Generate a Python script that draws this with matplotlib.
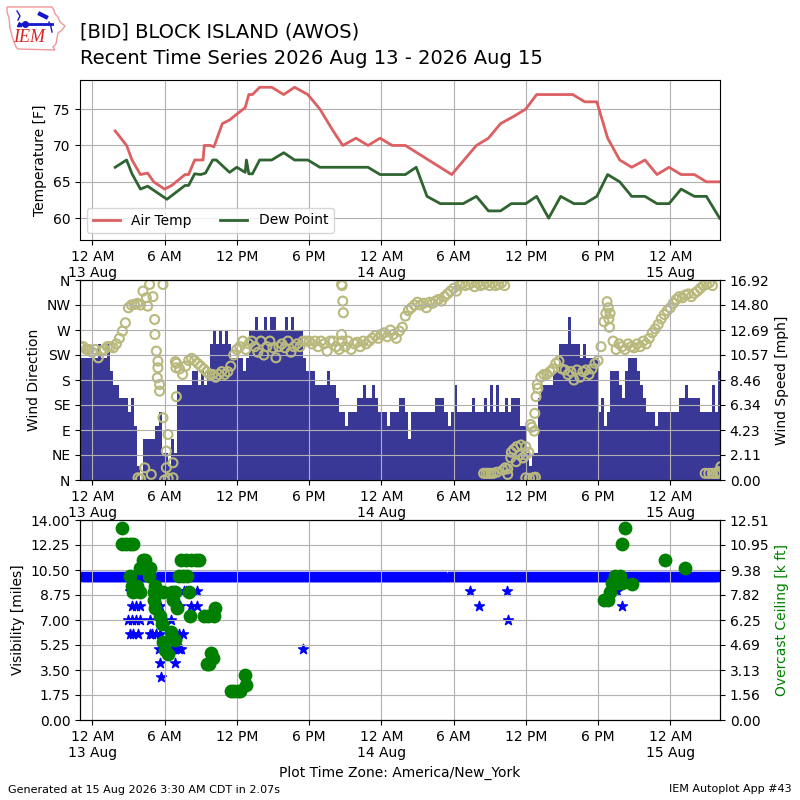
import datetime
import numpy as np
import matplotlib
matplotlib.use("Agg")
import matplotlib.pyplot as plt
from matplotlib.patches import Polygon

# all times are hours counted from 13 Aug 2026 00:00 (America/New_York)
base = datetime.datetime(2026, 8, 13)

# hourly / special observations
temp_hours = [1.9, 2.85, 3.3, 4.0, 4.6, 5.1, 6.0, 6.6, 7.7, 8.0, 8.5, 9.2, 9.3,
              9.8, 10.1, 10.8, 11.4, 12.0, 12.7, 13.0, 13.3, 13.9, 14.9, 15.9,
              16.8, 17.9, 18.9, 20.0, 20.8, 21.9, 22.9, 23.9, 24.9, 26.0, 29.85,
              31.9, 32.9, 33.9, 35.0, 36.0, 36.9, 39.9, 40.9, 41.9, 42.8, 43.8,
              44.8, 45.9, 46.9, 47.9, 48.9, 50.0, 51.0, 52.1]
temp_f = [72, 70, 68, 66, 66.2, 65, 64, 64.5, 66, 66, 68, 68, 70,
          70, 69.8, 73, 73.5, 74.3, 75.2, 77, 77, 78, 78, 77,
          78, 77, 75, 72, 70, 71, 70, 71, 70, 70, 66,
          70, 71, 73, 74, 75, 77, 77, 76, 76, 71, 68,
          67, 68, 66, 67, 66, 66, 65, 65]

dwpt_hours = [1.9, 2.85, 3.3, 4.0, 4.6, 6.2, 7.7, 8.0, 8.5, 9.0, 9.4, 10.0, 10.3,
              11.4, 12.0, 12.7, 12.8, 13.0, 13.3, 13.9, 14.9, 15.9, 16.8, 17.9,
              18.9, 22.9, 23.9, 26.0, 26.9, 27.8, 28.9, 30.8, 31.9, 32.9, 33.9,
              34.8, 36.0, 36.9, 37.9, 38.9, 40.0, 40.9, 41.9, 42.8, 43.8, 44.8,
              45.9, 46.9, 47.9, 48.9, 50.0, 51.0, 52.1]
dwpt_f = [67, 68, 66.1, 64, 64.4, 62.6, 64.5, 64.5, 66.1, 66, 66.2, 68, 68,
          66.3, 67, 66.3, 68, 66.1, 66.1, 68, 68, 69, 68, 68,
          67, 67, 66, 66, 67, 63, 62, 62, 63, 61, 61,
          62, 62, 63, 60, 63, 62, 62, 63, 66, 65, 63,
          63, 62, 62, 64, 63, 63, 60]

# wind every 15 minutes, first value at 12 Aug 23:00 (one row per hour)
wind_first_hour = -1.0
wind_kt = [
    9, 9, 9, 9,      # 23
    9, 9, 10, 9,     # 00
    9, 10, 8, 7,
    7, 6, 6, 6,
    5, 6, 4, 1,
    0, 3, 3, 3,
    3, 4, 5, 2,
    2, 1, 3, 2,
    7, 7, 7, 7,
    7, 8, 8, 7,
    8, 7, 8, 10,
    11, 10, 11, 10,
    11, 10, 9, 9,
    9, 9, 8, 9,      # 12
    11, 11, 12, 11,
    11, 12, 11, 12,
    12, 11, 11, 11,
    12, 11, 12, 11,
    11, 11, 9, 8,
    8, 8, 7, 7,
    7, 7, 8, 7,
    7, 6, 5, 5,
    4, 5, 5, 5,
    6, 6, 7, 6,
    6, 7, 6, 5,
    5, 5, 4, 5,      # 00 14 Aug
    5, 5, 6, 6,
    5, 3, 5, 5,
    5, 5, 5, 5,
    5, 5, 6, 6,
    6, 5, 4, 5,
    7, 5, 5, 5,
    5, 5, 6, 5,
    5, 5, 6, 5,
    7, 5, 7, 5,
    5, 6, 5, 6,
    6, 6, 4, 4,
    2, 1, 2, 2,      # 12
    6, 7, 7, 7,
    7, 8, 8, 10,
    10, 10, 12, 10,
    10, 10, 9, 10,
    9, 9, 9, 9,
    5, 6, 4, 5,
    8, 8, 8, 7,
    6, 8, 9, 9,
    9, 8, 7, 6,
    5, 5, 5, 4,
    5, 5, 5, 5,
    5, 5, 5, 6,      # 00 15 Aug
    6, 7, 6, 6,
    6, 6, 5, 5,
    5, 5, 7, 5,
    8,
]
nan = np.nan
wind_dir = [
    240, 240, 235, 235,
    230, 235, 220, 232,
    235, 240, 240, 238,
    245, 255, 268, 283,
    310, 315, 316, 318,
    nan, nan, nan, nan,
    nan, nan, nan, nan,
    nan, nan, nan, nan,
    210, 200, 190, 205,
    215, 219, 215, 210,
    205, 200, 195, 190,
    190, 185, 190, 195,
    190, 195, 205, 225,
    235, 240, 250, 235,
    245, 250, 240, 230,
    250, 225, 240, 250,
    238, 220, 240, 245,
    238, 250, 230, 240,
    245, 240, 250, 250,
    250, 245, 250, 240,
    250, 245, 232, 250,
    250, 240, 235, 250,
    240, 250, 235, 245,
    248, 240, 250, 245,
    250, 255, 260, 255,
    262, 265, 258, 270,
    262, 255, 268, 275,
    295, 305, 310, 315,
    320, 315, 318, 310,
    320, 318, 322, 325,
    322, 330, 335, 340,
    345, 340, 350, 355,
    350, 352, 355, 348,
    355, 350, 352, 355,
    350, 355, 350, 352,
    355, 350, 20, 40,
    55, 60, 45, 40,
    60, 50, 95, 120,
    165, 185, 190, 190,
    195, 200, 210, 214,
    200, 198, 190, 195,
    180, 198, 185, 195,
    198, 190, 200, 210,
    215, 240, 285, 321,
    300, 250, 235, 245,
    240, 235, 245, 240,
    238, 245, 240, 250,
    245, 255, 265, 272,
    280, 290, 298, 305,
    310, 318, 325, 330,
    328, 333, 335, 330,
    336, 340, 345, 350,
    352, 355, 350, 12,
    15,
]
# scattered direction reports in light and variable winds
extra_dir_hours = [3.8, 4.0, 4.0, 4.35, 4.9, 4.21, 4.49, 4.6, 4.76, 5.04, 5.18,
                   5.2, 5.32, 5.45, 5.45, 5.4, 5.59, 5.59, 5.87, 5.87, 6.15,
                   6.15, 6.29, 6.7, 6.7, 6.98, 6.9, 6.95, 6.0, 6.3,
                   20.7, 20.75, 20.8, 20.85, 20.7,
                   32.5, 32.7, 32.9, 33.1, 33.3, 33.6, 34.1, 34.3, 34.5,
                   34.8, 35.2, 35.6, 35.8, 36.0, 36.0, 36.3, 36.6, 36.8,
                   36.4, 36.7, 36.85, 36.95,
                   42.65, 42.85, 42.9, 42.95,
                   50.9, 51.2, 51.5, 51.8, 52.1, 52.2]
extra_dir = [4, 2, 315, 22, 10, 340, 328, 313, 352, 330, 289,
             262, 232, 214, 202, 184, 172, 160, 112, 352, 52,
             22, 82, 31, 4, 150, 213, 202, 0, 3,
             352, 350, 322, 301, 262,
             12, 12, 12, 12, 12, 14, 18, 22, 10,
             50, 33, 63, 40, 45, 4, 3, 4, 5,
             100, 88, 150, 172,
             300, 310, 290, 275,
             12, 12, 12, 12, 12, 24]

# visibility: 10 miles reported in every 5 minute report, plus these lower ones
vis_usual_miles = 10.0
vis_first_hour = -1.0
vis_last_hour = 52.1
vis_low_hours = [3.1, 3.3, 3.6, 4.0, 3.0, 3.3, 3.6, 4.0, 3.1, 3.4, 3.8, 4.8,
                 4.8, 5.0, 5.3, 5.6, 5.3, 5.6, 5.5, 5.6, 5.7, 6.5, 6.6, 6.9,
                 7.2, 7.4, 6.9, 7.2, 7.5, 7.3, 7.6, 7.8, 8.2, 8.7, 8.7, 17.5,
                 31.4, 32.1, 34.4, 34.5, 43.6, 44.0]
vis_low_miles = [9, 8, 8, 8, 7, 7, 7, 7, 6, 6, 6, 7,
                 6, 6, 6, 6, 8, 8, 5, 4, 3, 7, 5, 5,
                 5, 5, 4, 6, 6, 8, 9, 9, 8, 9, 8, 5,
                 9, 8, 9, 7, 9, 8]

ceil_hours = [2.5, 2.5, 2.8, 3.1, 3.4, 3.1, 3.3, 3.7, 3.4, 4.0, 4.2, 4.4,
              4.0, 4.4, 4.8, 4.7, 5.2, 5.1, 5.1, 5.2, 5.6, 5.8, 6.5, 5.9,
              6.0, 6.3, 6.9, 5.9, 6.6, 6.9, 6.7, 7.0, 7.2, 7.5, 7.9, 7.4,
              7.8, 8.2, 8.6, 8.9, 8.0, 8.1, 9.3, 9.6, 10.1, 10.2, 9.5, 9.7,
              9.9, 10.0, 11.5, 11.8, 12.1, 12.3, 12.8, 12.7,
              44.2, 44.0, 43.4, 43.8, 43.2, 43.6, 44.0, 43.0, 42.5, 42.8,
              44.8, 47.6, 49.2]
ceil_kft = [12.0, 11.0, 11.0, 11.0, 11.0, 9.0, 8.4, 8.4, 8.0, 8.0, 10.0, 10.0,
            9.5, 9.5, 9.5, 9.0, 8.4, 8.0, 7.5, 7.0, 6.5, 6.0, 5.5, 4.9,
            4.4, 4.1, 5.0, 8.0, 8.0, 8.0, 7.5, 7.0, 9.0, 9.0, 9.0, 10.0,
            10.0, 10.0, 10.0, 10.0, 8.0, 6.5, 6.5, 6.5, 6.5, 7.0, 3.5, 3.5,
            4.2, 3.9, 1.8, 1.8, 1.8, 1.8, 2.2, 2.8,
            12.0, 11.0, 9.0, 9.0, 8.55, 8.55, 8.55, 8.0, 7.5, 7.5,
            8.5, 10.0, 9.5]


def to_time(hours):
    return [base + datetime.timedelta(hours=float(h)) for h in hours]


wind_hours = wind_first_hour + 0.25 * np.arange(len(wind_kt))
wind_times = to_time(wind_hours)
wind_mph = np.array(wind_kt) * 1.15078
vis_times = to_time(np.arange(vis_first_hour, vis_last_hour, 1 / 12.))

fig = plt.figure(figsize=(8, 8), dpi=100)

# logo
lax = fig.add_axes([0, 1 - 56 / 800, 75 / 800, 56 / 800])
lax.set_xlim(0, 75)
lax.set_ylim(56, 0)
lax.axis("off")
iowa = [(7, 7), (52, 7), (54, 10), (55, 14), (58, 17), (60, 22), (65, 26),
        (62, 30), (58, 33), (57, 38), (56, 44), (53, 47), (55, 50), (18, 49),
        (16, 47), (14, 42), (12, 36), (10, 28), (9, 18), (7, 12)]
lax.add_patch(Polygon(iowa, closed=True, fill=False, edgecolor="#ee9999", lw=1))
lax.plot([21, 52], [24, 24], color="#1515cc", lw=2)
lax.plot([25], [24], "o", color="#1515cc", ms=4)
lax.plot([17, 20, 18], [11, 16, 20], color="#1515cc", lw=1)
lax.plot([40, 46], [14, 17], color="#1515cc", lw=3)
lax.plot([49, 51, 52], [22, 27, 32], color="#1515cc", lw=1)
lax.plot([19], [24], "^", color="#1515cc", ms=3)
lax.text(29, 38, "IEM", ha="center", va="center", color="#dd2222",
         fontsize=13, style="italic", family="Liberation Serif")

fig.text(0.1, 1 - 37 / 800, "[BID] BLOCK ISLAND (AWOS)", fontsize=14,
         va="baseline")
fig.text(0.1, 1 - 64 / 800, "Recent Time Series 2026 Aug 13 - 2026 Aug 15",
         fontsize=14, va="baseline")

ax1 = fig.add_axes([0.1, 0.7, 0.8, 0.2])
ax2 = fig.add_axes([0.1, 0.4, 0.8, 0.25])
ax3 = fig.add_axes([0.1, 0.1, 0.8, 0.25])

# temperature
ax1.plot(to_time(temp_hours), temp_f, color="#dc5f62", lw=2, label="Air Temp")
ax1.plot(to_time(dwpt_hours), dwpt_f, color="#2f6430", lw=2, label="Dew Point")
ax1.set_ylim(57, 79)
ax1.set_yticks([60, 65, 70, 75])
ax1.set_ylabel("Temperature [F]")
ax1.legend(loc="lower left", ncol=2)
ax1.grid(True)

# wind
ax2b = ax2.twinx()
ax2b.bar(wind_times, wind_mph, width=0.25 / 24, align="edge",
         color="#3a3897", linewidth=0)
spd_top = 16.9165
ax2b.set_ylim(0, spd_top)
spd_ticks = np.linspace(0, spd_top, 9)
ax2b.set_yticks(spd_ticks)
ax2b.set_yticklabels(["%.2f" % v for v in spd_ticks])
ax2b.set_ylabel("Wind Speed [mph]")

ax2.scatter(wind_times, wind_dir, s=42, facecolors="none",
            edgecolors="#b9b97d", linewidths=1.5)
ax2.scatter(to_time(extra_dir_hours), extra_dir, s=42, facecolors="none",
            edgecolors="#b9b97d", linewidths=1.5)
ax2.set_zorder(ax2b.get_zorder() + 1)
ax2.patch.set_visible(False)
ax2.set_ylim(0, 360)
ax2.set_yticks(range(0, 361, 45))
ax2.set_yticklabels(["N", "NE", "E", "SE", "S", "SW", "W", "NW", "N"])
ax2.set_ylabel("Wind Direction")
ax2.grid(True)

# visibility and ceiling
ax3.scatter(vis_times, [vis_usual_miles] * len(vis_times), marker="*",
            s=55, color="b")
ax3.scatter(to_time(vis_low_hours), vis_low_miles, marker="*", s=55, color="b")
ax3.set_ylim(0, 14)
vis_ticks = np.arange(0, 14.01, 1.75)
ax3.set_yticks(vis_ticks)
ax3.set_yticklabels(["%.2f" % v for v in vis_ticks])
ax3.set_ylabel("Visibility [miles]")
ax3.grid(True)
ax3.set_xlabel("Plot Time Zone: America/New_York")

ax3b = ax3.twinx()
ax3b.scatter(to_time(ceil_hours), ceil_kft, s=80, color="g")
ax3b.set_ylim(0, 12.51)
ceil_ticks = np.linspace(0, 12.51, 9)
ax3b.set_yticks(ceil_ticks)
ax3b.set_yticklabels(["%.2f" % v for v in ceil_ticks])
ax3b.set_ylabel("Overcast Ceiling [k ft]", color="g")

# shared time axis
xticks = [base + datetime.timedelta(hours=6 * k) for k in range(9)]
xlabels = []
for t in xticks:
    if t.hour == 0:
        xlabels.append("12 AM\n%d Aug" % t.day)
    elif t.hour == 12:
        xlabels.append("12 PM")
    elif t.hour < 12:
        xlabels.append("%d AM" % t.hour)
    else:
        xlabels.append("%d PM" % (t.hour - 12))
xmin = base + datetime.timedelta(hours=-1.02)
xmax = base + datetime.timedelta(hours=52.13)
for ax in (ax1, ax2, ax3):
    ax.set_xlim(xmin, xmax)
    ax.set_xticks(xticks)
    ax.set_xticklabels(xlabels)

fig.text(0.01, 1 - 790 / 800, "Generated at 15 Aug 2026 3:30 AM CDT in 2.07s",
         fontsize=8, va="center")
fig.text(0.99, 1 - 789 / 800, "IEM Autoplot App #43", fontsize=8,
         va="center", ha="right")

fig.savefig("out.png", dpi=100)
